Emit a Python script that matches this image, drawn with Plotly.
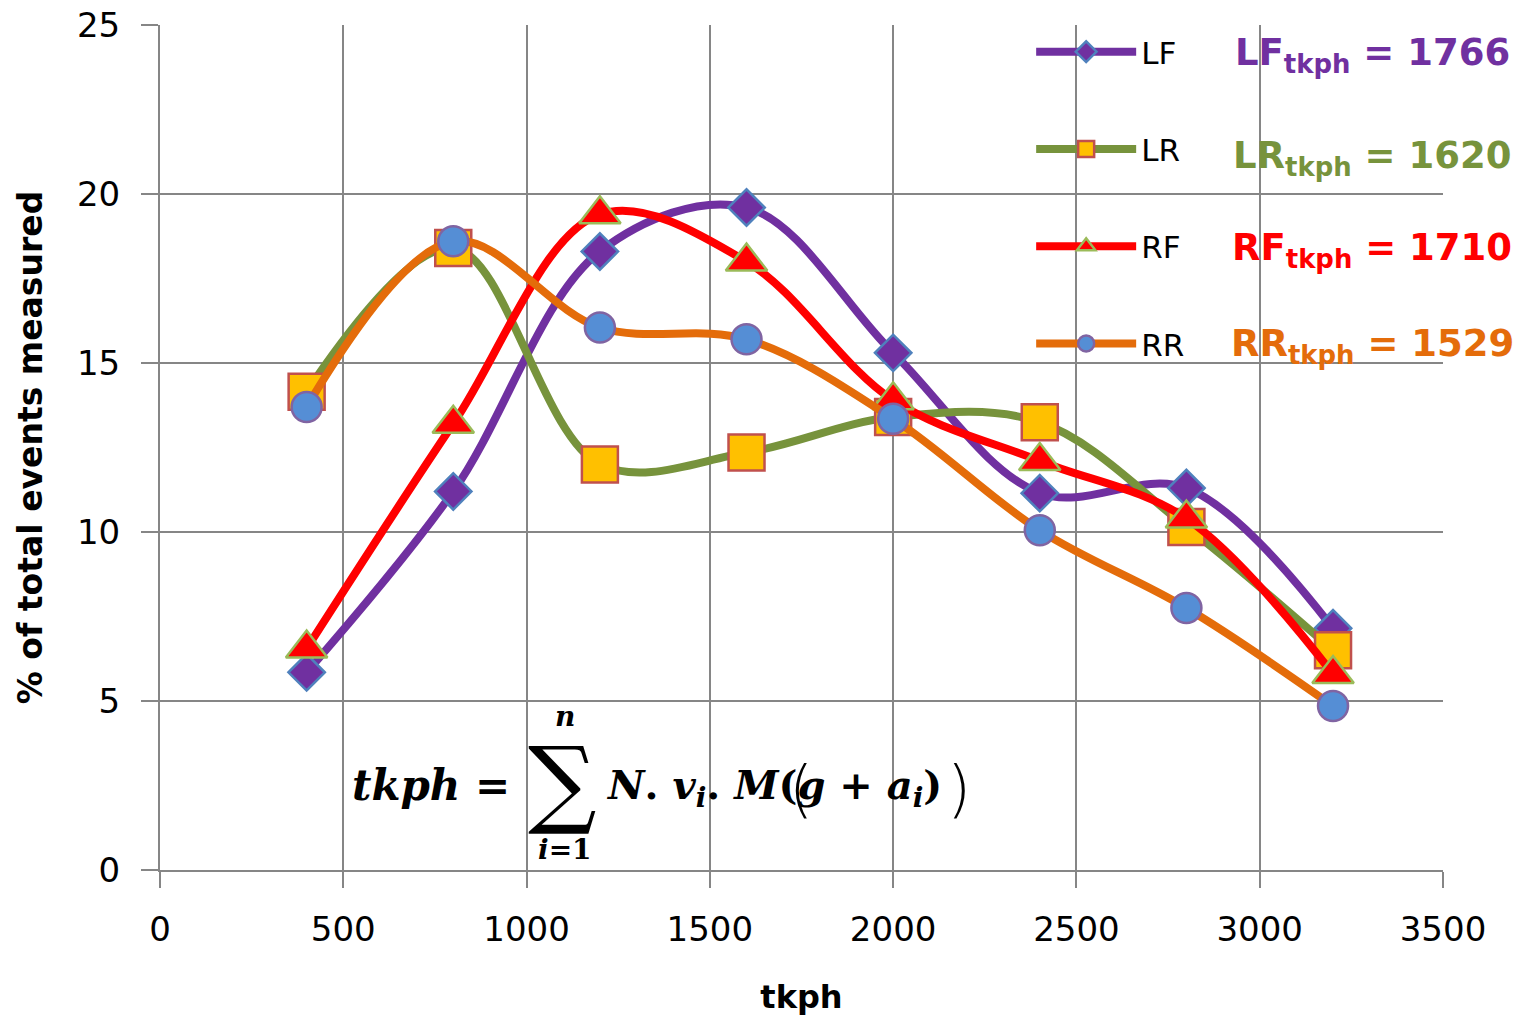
import plotly.graph_objects as go

tkph = [400, 800, 1200, 1600, 2000, 2400, 2800, 3200]
LF = [5.85, 11.2, 18.3, 19.6, 15.3, 11.15, 11.3, 7.15]
LR = [14.15, 18.4, 12.0, 12.35, 13.4, 13.25, 10.15, 6.5]
RF = [6.55, 13.2, 19.4, 18.0, 13.9, 12.1, 10.4, 5.8]
RR = [13.7, 18.6, 16.05, 15.7, 13.35, 10.05, 7.75, 4.85]

series_names = ["LF", "LR", "RF", "RR"]
tkph_totals = [1766, 1620, 1710, 1529]
x_ticks = [0, 500, 1000, 1500, 2000, 2500, 3000, 3500]
y_ticks = [0, 5, 10, 15, 20, 25]

line_colors = ["#7030A0", "#77933C", "#FF0000", "#E46C0A"]
text_colors = ["#7030A0", "#77933C", "#FF0000", "#E46C0A"]
marker_symbols = ["diamond", "square", "triangle-up", "circle"]
marker_fill = ["#7030A0", "#FFC000", "#FF0000", "#558ED5"]
marker_edge = ["#4F81BD", "#C0504D", "#9BBB59", "#8064A2"]
marker_sizes = [28, 36, 36, 30]

values = [LF, LR, RF, RR]
grid = "#868686"

fig = go.Figure()
for i, name in enumerate(series_names):
    fig.add_trace(go.Scatter(
        x=tkph, y=values[i], name=name, mode="lines+markers",
        legendgroup=name,
        line=dict(color=line_colors[i], width=8, shape="spline", smoothing=1.0),
        marker=dict(symbol=marker_symbols[i], size=marker_sizes[i], color=marker_fill[i],
                    line=dict(color=marker_edge[i], width=2.5)),
    ))

# white area covering gridlines behind the value labels
fig.add_shape(type="rect", xref="paper", yref="paper", x0=0.8083, x1=1.08, y0=0.576, y1=1.05,
              fillcolor="white", line=dict(width=0), layer="between")

# tkph totals
ypos = [0.9645, 0.8425, 0.7335, 0.6205]
for i, name in enumerate(series_names):
    fig.add_annotation(
        xref="paper", yref="paper", x=0.945, y=ypos[i], xanchor="center", yanchor="middle",
        text=f"<b>{name}<sub>tkph</sub> = {tkph_totals[i]}</b>", showarrow=False,
        font=dict(family="DejaVu Sans", size=37, color=text_colors[i]),
    )

# equation
efont = dict(family="DejaVu Serif", size=40, color="black")
fig.add_annotation(x=739, y=2.5, xref="x", yref="y", showarrow=False,
                   text="<b><i>tkph</i> =</b>", font=dict(family="DejaVu Serif", size=42, color="black"))
fig.add_annotation(x=1097, y=2.6, xref="x", yref="y", showarrow=False,
                   text="∑", font=dict(family="DejaVu Serif", size=96, color="black"))
fig.add_annotation(x=1105, y=4.55, xref="x", yref="y", showarrow=False,
                   text="<b><i>n</i></b>", font=dict(family="DejaVu Serif", size=28, color="black"))
fig.add_annotation(x=1105, y=0.62, xref="x", yref="y", showarrow=False,
                   text="<b><i>i</i>=1</b>", font=dict(family="DejaVu Serif", size=28, color="black"))
fig.add_annotation(x=1210, y=2.45, xref="x", yref="y", showarrow=False, xanchor="left",
                   text="<b><i>N</i>. <i>v<sub>i</sub></i>. <i>M</i>(<i>g</i> + <i>a<sub>i</sub></i>)</b>",
                   font=efont)
fig.add_annotation(x=1748, y=2.4, xref="x", yref="y", showarrow=False,
                   text="(", font=dict(family="DejaVu Sans ExtraLight, DejaVu Sans Light, Liberation Serif", size=62, color="black"))
fig.add_annotation(x=2180, y=2.4, xref="x", yref="y", showarrow=False,
                   text=")", font=dict(family="DejaVu Sans ExtraLight, DejaVu Sans Light, Liberation Serif", size=62, color="black"))

axis_font = dict(family="DejaVu Sans", size=34, color="black")
fig.update_layout(
    width=1530, height=1021,
    margin=dict(l=160, r=87, t=25, b=151, autoexpand=False),
    paper_bgcolor="white", plot_bgcolor="white",
    showlegend=True,
    legend=dict(x=0.679, y=1.0, xanchor="left", yanchor="top", bgcolor="rgba(0,0,0,0)",
                font=dict(family="DejaVu Sans", size=31, color="black"),
                tracegroupgap=54, itemwidth=100, traceorder="grouped"),
    xaxis=dict(range=[0, 3500], tickvals=x_ticks, ticktext=[str(v) for v in x_ticks],
               showgrid=True, gridcolor=grid, gridwidth=2, automargin=False,
               showline=True, linecolor=grid, linewidth=2,
               ticks="outside", ticklen=16, tickcolor=grid, tickwidth=2,
               tickfont=axis_font, zeroline=False, ticklabelstandoff=12,
               title=dict(text="<b>tkph</b>", font=dict(family="DejaVu Sans", size=32, color="black"), standoff=38)),
    yaxis=dict(range=[0, 25], tickvals=y_ticks, ticktext=[str(v) for v in y_ticks],
               showgrid=True, gridcolor=grid, gridwidth=2, automargin=False,
               showline=True, linecolor=grid, linewidth=2,
               ticks="outside", ticklen=17, tickcolor=grid, tickwidth=2,
               tickfont=axis_font, zeroline=False, ticklabelstandoff=14,
               title=dict(text="<b>% of total events measured</b>", font=dict(family="DejaVu Sans", size=33, color="black"), standoff=24)),
)

fig.write_html("out.html")
